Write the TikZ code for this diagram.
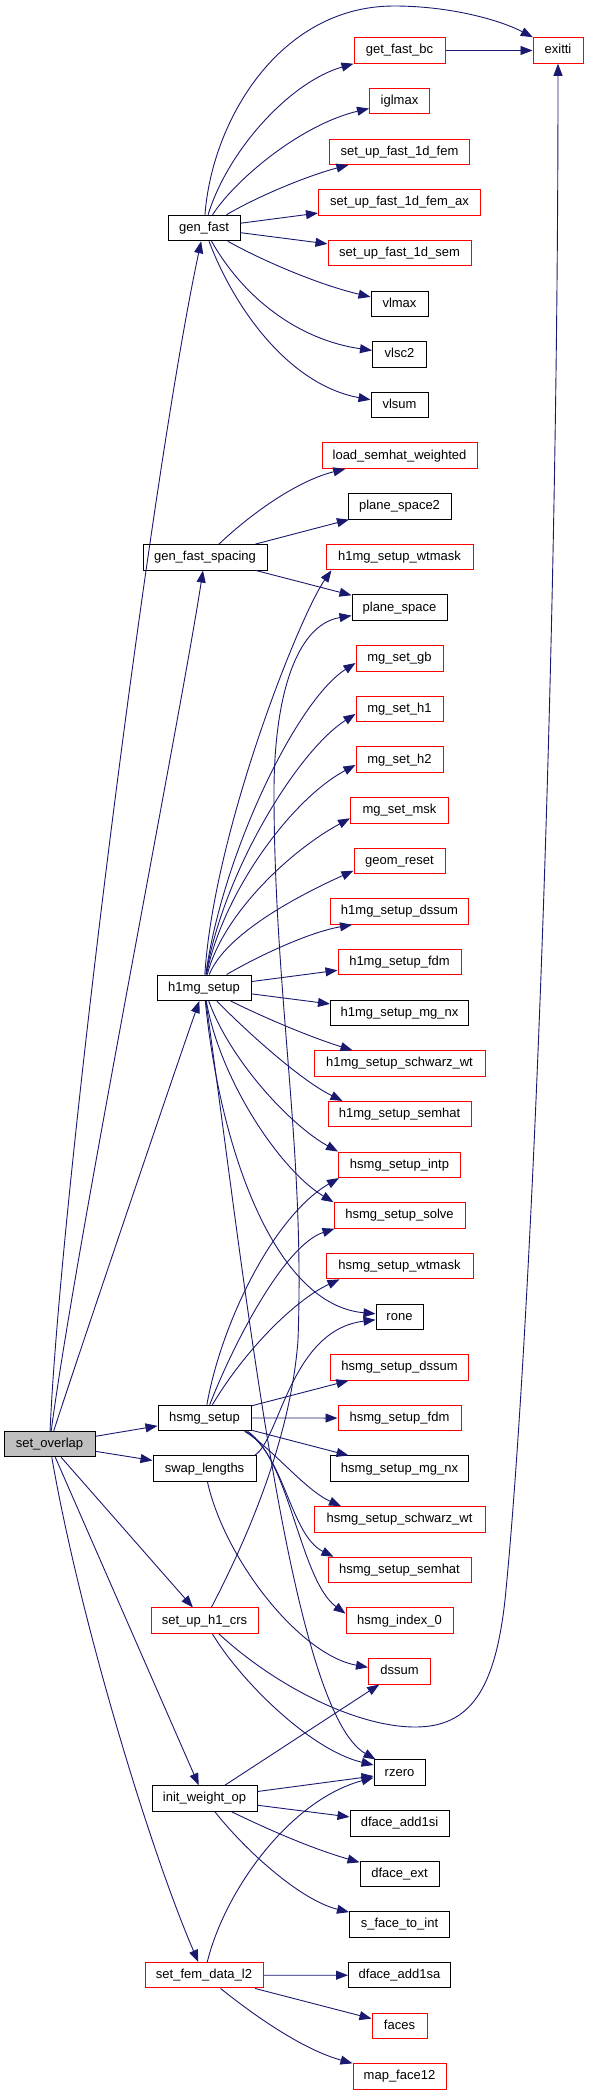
\documentclass[tikz,border=0pt]{standalone}
\usepackage{fontspec}
\setmainfont{Liberation Sans}
\usetikzlibrary{arrows.meta,calc}
\definecolor{edgeblue}{HTML}{191970}
\definecolor{nodered}{HTML}{FF0000}
\definecolor{fillgray}{HTML}{BFBFBF}
\begin{document}
\begin{tikzpicture}[x=1pt,y=-1pt,
  box/.style={draw=black, line width=1pt, fill=white, minimum height=25.5pt, inner sep=0pt,
    text height=9.4pt, text depth=2.6pt, font=\fontsize{13}{15}\selectfont},
  rbox/.style={box, draw=nodered},
  e/.style={draw=edgeblue, line width=0.9pt, -{Triangle[length=12pt,width=9pt]}}]
\useasboundingbox (0,0) rectangle (589,2096);
% left and middle column
\node[box, fill=fillgray, minimum width=91pt] (so) at (49.5,1444) {set\_overlap};
\node[box, minimum width=72pt] (gf) at (204,228) {gen\_fast};
\node[box, minimum width=124pt] (gfs) at (205,557.3) {gen\_fast\_spacing};
\node[box, minimum width=94pt] (h1) at (204,987.75) {h1mg\_setup};
\node[box, minimum width=93pt] (hs) at (204.5,1418) {hsmg\_setup};
\node[box, minimum width=103pt] (sl) at (204.5,1468.7) {swap\_lengths};
\node[rbox, minimum width=107pt] (suhc) at (204.5,1620.65) {set\_up\_h1\_crs};
\node[box, minimum width=105pt] (iwo) at (204.5,1798.5) {init\_weight\_op};
\node[rbox, minimum width=118pt] (sfd) at (204,1975.2) {set\_fem\_data\_l2};
% right column
\node[rbox, minimum width=50pt] (ex) at (558,50.5) {exitti};
\node[rbox, minimum width=91pt] (gfbc) at (399.5,{50.5+50.65*0}) {get\_fast\_bc};
\node[rbox, minimum width=60pt] (igl) at (399.5,{50.5+50.65*1}) {iglmax};
\node[rbox, minimum width=140pt] (f1) at (399.5,{50.5+50.65*2}) {set\_up\_fast\_1d\_fem};
\node[rbox, minimum width=162pt] (f1ax) at (399.5,{50.5+50.65*3}) {set\_up\_fast\_1d\_fem\_ax};
\node[rbox, minimum width=143pt] (f1s) at (399.5,{50.5+50.65*4}) {set\_up\_fast\_1d\_sem};
\node[box, minimum width=57pt] (vlmax) at (399.5,{50.5+50.65*5}) {vlmax};
\node[box, minimum width=54pt] (vlsc2) at (399.5,{50.5+50.65*6}) {vlsc2};
\node[box, minimum width=57pt] (vlsum) at (399.5,{50.5+50.65*7}) {vlsum};
\node[rbox, minimum width=155pt] (lsw) at (399.5,{50.5+50.65*8}) {load\_semhat\_weighted};
\node[box, minimum width=103pt] (ps2) at (399.5,{50.5+50.65*9}) {plane\_space2};
\node[rbox, minimum width=147pt] (hwt) at (399.5,{50.5+50.65*10}) {h1mg\_setup\_wtmask};
\node[box, minimum width=95pt] (ps) at (399.5,{50.5+50.65*11}) {plane\_space};
\node[rbox, minimum width=87pt] (gb) at (399.5,{50.5+50.65*12}) {mg\_set\_gb};
\node[rbox, minimum width=87pt] (mh1) at (399.5,{50.5+50.65*13}) {mg\_set\_h1};
\node[rbox, minimum width=87pt] (mh2) at (399.5,{50.5+50.65*14}) {mg\_set\_h2};
\node[rbox, minimum width=98pt] (msk) at (399.5,{50.5+50.65*15}) {mg\_set\_msk};
\node[rbox, minimum width=91pt] (geo) at (399.5,{50.5+50.65*16}) {geom\_reset};
\node[rbox, minimum width=138pt] (hds) at (399.5,{50.5+50.65*17}) {h1mg\_setup\_dssum};
\node[rbox, minimum width=123pt] (hfdm) at (399.5,{50.5+50.65*18}) {h1mg\_setup\_fdm};
\node[box, minimum width=138pt] (hnx) at (399.5,{50.5+50.65*19}) {h1mg\_setup\_mg\_nx};
\node[rbox, minimum width=171pt] (hsw) at (399.5,{50.5+50.65*20}) {h1mg\_setup\_schwarz\_wt};
\node[rbox, minimum width=143pt] (hsh) at (399.5,{50.5+50.65*21}) {h1mg\_setup\_semhat};
\node[rbox, minimum width=122pt] (sint) at (399.5,{50.5+50.65*22}) {hsmg\_setup\_intp};
\node[rbox, minimum width=131pt] (ssol) at (399.5,{50.5+50.65*23}) {hsmg\_setup\_solve};
\node[rbox, minimum width=147pt] (swt) at (399.5,{50.5+50.65*24}) {hsmg\_setup\_wtmask};
\node[box, minimum width=47pt] (rone) at (399.5,{50.5+50.65*25}) {rone};
\node[rbox, minimum width=138pt] (sds) at (399.5,{50.5+50.65*26}) {hsmg\_setup\_dssum};
\node[rbox, minimum width=123pt] (sfdm) at (399.5,{50.5+50.65*27}) {hsmg\_setup\_fdm};
\node[box, minimum width=138pt] (snx) at (399.5,{50.5+50.65*28}) {hsmg\_setup\_mg\_nx};
\node[rbox, minimum width=171pt] (ssw) at (399.5,{50.5+50.65*29}) {hsmg\_setup\_schwarz\_wt};
\node[rbox, minimum width=143pt] (ssh) at (399.5,{50.5+50.65*30}) {hsmg\_setup\_semhat};
\node[rbox, minimum width=107pt] (si0) at (399.5,{50.5+50.65*31}) {hsmg\_index\_0};
\node[rbox, minimum width=62pt] (dssum) at (399.5,{50.5+50.65*32}) {dssum};
\node[box, minimum width=51pt] (rzero) at (399.5,{50.5+50.65*34}) {rzero};
\node[box, minimum width=99pt] (da1) at (399.5,{50.5+50.65*35}) {dface\_add1si};
\node[box, minimum width=79pt] (dext) at (399.5,{50.5+50.65*36}) {dface\_ext};
\node[box, minimum width=100pt] (sfti) at (399.5,{50.5+50.65*37}) {s\_face\_to\_int};
\node[box, minimum width=102pt] (da1sa) at (399.5,{50.5+50.65*38}) {dface\_add1sa};
\node[rbox, minimum width=55pt] (faces) at (399.5,{50.5+50.65*39}) {faces};
\node[rbox, minimum width=93pt] (mf12) at (399.5,{50.5+50.65*40}) {map\_face12};
% set_overlap
\draw[e] (so) .. controls (60,1200) and (150,480) .. (gf);
\draw[e] (so) .. controls (75,1250) and (180,720) .. (gfs);
\draw[e] (so) .. controls (75,1365) and (175,1070) .. (h1);
\draw[e] (so) -- (hs);
\draw[e] (so) -- (sl);
\draw[e] (so) -- (suhc);
\draw[e] (so) -- (iwo);
\draw[e] (so) .. controls (80,1620) and (150,1850) .. (sfd);
% gen_fast
\draw[e] (gf) .. controls (212,120) and (280,6) .. (394,6) .. controls (450,6) and (500,20) .. (ex);
\draw[e] (gf) .. controls (228,150) and (290,82) .. (gfbc);
\draw[e] (gf) .. controls (235,180) and (300,125) .. (igl);
\draw[e] (gf) .. controls (260,195) and (310,175) .. (f1);
\draw[e] (gf) -- (f1ax);
\draw[e] (gf) -- (f1s);
\draw[e] (gf) .. controls (265,262) and (320,285) .. (vlmax);
\draw[e] (gf) .. controls (245,300) and (300,340) .. (vlsc2);
\draw[e] (gf) .. controls (235,310) and (290,385) .. (vlsum);
\draw[e] (gfbc) -- (ex);
% gen_fast_spacing
\draw[e] (gfs) .. controls (255,510) and (300,480) .. (lsw);
\draw[e] (gfs) -- (ps2);
\draw[e] (gfs) -- (ps);
% h1mg_setup
\draw[e] (h1) .. controls (214,830) and (300,615) .. ($(hwt.south west)+(6,0)$);
\draw[e] (h1) .. controls (222,856) and (296,701) .. ($(gb.west)+(0,4.7)$);
\draw[e] (h1) .. controls (222,876) and (296,752) .. ($(mh1.west)+(0,5)$);
\draw[e] (h1) .. controls (222,895) and (290,800) .. ($(mh2.west)+(0,5.4)$);
\draw[e] (h1) .. controls (222,916) and (288,852) .. ($(msk.west)+(0,8)$);
\draw[e] (h1) .. controls (225,935) and (295,897) .. ($(geo.west)+(0,9.8)$);
\draw[e] (h1) .. controls (260,955) and (310,932) .. ($(hds.south west)+(22,0)$);
\draw[e] (h1) -- (hfdm);
\draw[e] (h1) -- (hnx);
\draw[e] (h1) .. controls (265,1018) and (310,1037) .. ($(hsw.north west)+(39,0)$);
\draw[e] (h1) .. controls (245,1030) and (300,1080) .. ($(hsh.north west)+(15,0)$);
\draw[e] (h1) .. controls (230,1060) and (290,1125) .. (sint.north west);
\draw[e] (h1) .. controls (220,1080) and (280,1170) .. (ssol.north west);
\draw[e] (h1) .. controls (220,1150) and (275,1305) .. ($(rone.west)+(0,-3)$);
\draw[e] (h1) .. controls (245,1280) and (290,1710) .. ($(rzero.north west)+(2,0)$);
% hsmg_setup
\draw[e] (hs) .. controls (222,1320) and (275,1215) .. ($(sint.south west)+(1,0)$);
\draw[e] (hs) .. controls (235,1340) and (285,1245) .. ($(ssol.south west)+(1,0)$);
\draw[e] (hs) .. controls (245,1350) and (295,1300) .. ($(swt.south west)+(14,0)$);
\draw[e] (hs) -- (sds);
\draw[e] (hs) -- (sfdm);
\draw[e] (hs) -- (snx);
\draw[e] ($(hs.south east)+(-7,0)$) .. controls (272,1448) and (305,1490) .. ($(ssw.north west)+(27.5,0)$);
\draw[e] ($(hs.south east)+(-6,0)$) .. controls (285,1455) and (290,1535) .. ($(ssh.north west)+(6,0)$);
\draw[e] ($(hs.south east)+(-4,0)$) .. controls (290,1460) and (300,1580) .. ($(si0.west)+(0,-7)$);
% swap_lengths
\draw[e] ($(sl.north east)+(-2,0)$) .. controls (280,1440) and (290,1330) .. ($(rone.west)+(0,3)$);
\draw[e] (sl) .. controls (225,1560) and (300,1655) .. ($(dssum.west)+(0,-4)$);
% set_up_h1_crs
\draw[e] (suhc) .. controls (262,1510) and (292,1420) .. (298,1340) .. controls (305,1150) and (275,1000) .. (274,800) .. controls (273,700) and (295,625) .. (ps);
\draw[e] (suhc) .. controls (240,1680) and (310,1750) .. ($(rzero.west)+(0,-7.6)$);
\draw[e] (suhc) .. controls (280,1690) and (360,1727) .. (415,1727) .. controls (470,1727) and (495,1690) .. (505,1600) .. controls (530,1350) and (558,700) .. (ex);
% init_weight_op
\draw[e] (iwo) -- (dssum);
\draw[e] (iwo) -- (rzero);
\draw[e] (iwo) -- (da1);
\draw[e] (iwo) .. controls (265,1828) and (310,1848) .. (dext);
\draw[e] (iwo) .. controls (245,1850) and (300,1900) .. (sfti);
% set_fem_data_l2
\draw[e] (sfd) .. controls (225,1890) and (290,1800) .. ($(rzero.west)+(0,5)$);
\draw[e] (sfd) -- (da1sa);
\draw[e] (sfd) -- (faces);
\draw[e] (sfd) .. controls (260,2020) and (305,2050) .. (mf12);
\end{tikzpicture}
\end{document}
